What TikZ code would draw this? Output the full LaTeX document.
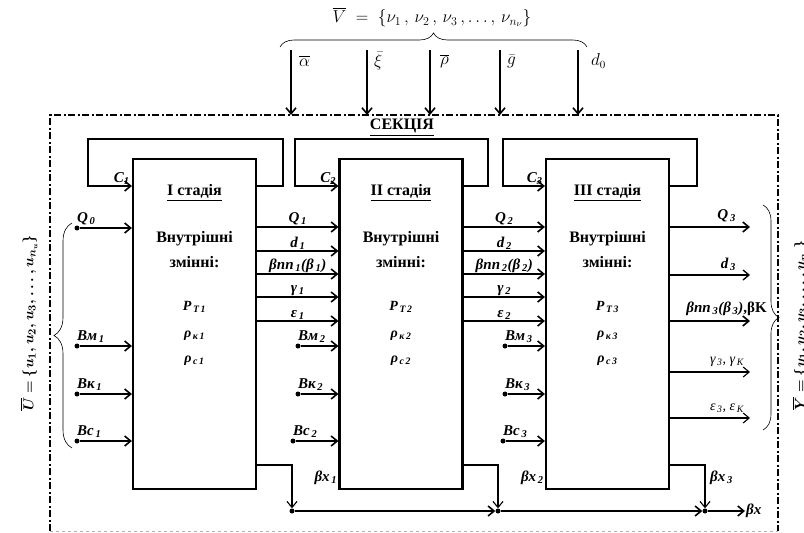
\documentclass[tikz,border=0pt]{standalone}
\usepackage{fontspec}
\setmainfont{Liberation Serif}
\usepackage{amsmath}
\usetikzlibrary{positioning, arrows.meta, calc, decorations.pathreplacing}

\tikzset{
  stagebox/.style={draw, line width=2.2pt, minimum width=123pt, minimum height=330pt, inner sep=0pt},
  flow/.style={-{Straight Barb[length=6pt, width=10pt]}, line width=1.6pt},
  thinflow/.style={flow, line width=1.1pt},
  loopline/.style={line width=1.5pt},
  secframe/.style={line width=1.3pt, dash pattern=on 7pt off 2.5pt on 2pt off 2.5pt},
  stagetitle/.style={font=\fontsize{16}{18}\selectfont\bfseries, inner sep=1pt},
  lab/.style={font=\fontsize{15}{17}\selectfont\bfseries\itshape, inner sep=1pt},
  innerlab/.style={font=\fontsize{14}{16}\selectfont\bfseries\itshape, inner sep=1pt},
  plainlab/.style={font=\fontsize{14}{16}\selectfont\itshape, inner sep=1pt},
  toplab/.style={font=\fontsize{16}{18}\selectfont, inner sep=1pt, anchor=west},
  vecset/.style={rotate=90, font=\fontsize{15}{17}\selectfont, inner sep=0pt},
  src/.style={circle, fill, inner sep=0pt, minimum size=5pt},
  setbrace/.style={decorate, decoration={brace, amplitude=#1}, line width=0.6pt},
}
\newcommand{\uvec}{$\boldsymbol{\overline{U}}\boldsymbol{=}\boldsymbol{\{}\boldsymbol{u_{1},u_{2},u_{3},\ldots,u_{n_u}}\boldsymbol{\}}$}
\newcommand{\yvec}{$\boldsymbol{\overline{Y}}\boldsymbol{=}\boldsymbol{\{}\boldsymbol{y_{1},y_{2},y_{3},\ldots,y_{n_y}}\boldsymbol{\}}$}

\begin{document}
\begin{tikzpicture}[x=1pt, y=-1pt, every node/.style={font=\fontsize{16}{18}\selectfont}]
\useasboundingbox (0,0) rectangle (804,533);

% section frame
\draw[secframe] (50,531) -- (50,115) -- (778,115) -- (778,531);
\draw[gray!60, dashed, line width=0.5pt] (50,531) -- (778,531);
\coordinate (ftop) at (0,115);
\node[stagetitle] (sec) at (402,128) {\underline{СЕКЦІЯ}};

% external parameters on top
\draw[setbrace=14pt] (280,47) -- (587,47);
\node[font=\fontsize{18}{20}\selectfont] (vset) at (432,17) {$\overline{V}\;=\;\left\{\nu_{1}\,,\,\nu_{2}\,,\,\nu_{3}\,,\ldots,\,\nu_{n_\nu}\right\}$};
\foreach \x/\n/\t/\g in {291/al/$\overline{\alpha}$/7, 367/xi/$\bar{\xi}$/6, 430/rh/$\overline{\rho}$/9, 500/gg/$\bar{g}$/6, 578/dd/$d_{0}$/12} {
  \coordinate (in\n) at (\x,50);
  \draw[flow] (in\n) -- (in\n |- ftop);
  \node[toplab] (l\n) at ({\x+\g},61) {\t};
}

% stages
\node[stagebox] (s1) at (194.5,324) {};
\node[stagebox] (s2) at (401,324) {};
\node[stagebox] (s3) at (607.5,324) {};
\foreach \s/\r in {1/I, 2/II, 3/III} {
  \node[stagetitle] (t\s) at ($(s\s.north)+(0,35)$) {\underline{\r\ стадія}};
  \node[stagetitle] (v\s) at ($(s\s.north)+(0,81)$) {Внутрішні};
  \node[stagetitle] (z\s) at ($(s\s.north)+(0,104)$) {змінні:};
  \node[innerlab] (pt\s) at ($(s\s.north)+(0,149)$) {P\textsubscript{\,T\,\s}};
  \node[innerlab] (rk\s) at ($(s\s.north)+(0,178)$) {ρ\textsubscript{\,к\,\s}};
  \node[innerlab] (rc\s) at ($(s\s.north)+(0,203)$) {ρ\textsubscript{\,c\,\s}};
}

% recycle loops
\foreach \s/\xl/\xr in {1/88/283, 2/295/488, 3/503/697} {
  \draw[loopline, flow] (s\s.east |- 0,186) -- (\xr,186) -- (\xr,139) -- (\xl,139) -- (\xl,186) -- (s\s.west |- 0,186);
  \path (s\s.west |- 0,186) node[lab, above left=0pt and 1pt] (c\s) {C\textsubscript{\s}};
}

% feed of stage 1
\node[src] (q0) at (77,228) {};
\draw[flow] (q0) -- (s1.west |- q0);
\node[lab, above right=0pt and -3pt of q0] (lq0) {Q\textsubscript{\,0}};

% inputs with dots
\foreach \s/\xa/\xb in {1/77/77, 2/298/293, 3/505/503} {
  \node[src] (bm\s) at (\xa,346) {};
  \node[src] (bk\s) at (\xa,394) {};
  \node[src] (bc\s) at (\xb,441) {};
  \foreach \n/\t in {bm/Вм, bk/Вк, bc/Вс} {
    \draw[flow] (\n\s) -- (s\s.west |- \n\s);
    \node[lab, above right=0pt and -3pt of \n\s] (l\n\s) {\t\textsubscript{\,\s}};
  }
}

% flows between stages
\foreach \a/\b in {1/2, 2/3} {
  \foreach \y/\t in {227/Q\textsubscript{\,\a}, 251/d\textsubscript{\,\a}, 274/βnn\textsubscript{\,\a}(β\textsubscript{\,\a}), 297/γ\textsubscript{\,\a}, 321/ε\textsubscript{\,\a}} {
    \draw[flow] (s\a.east |- 0,\y) -- (s\b.west |- 0,\y) node[lab, midway, above] {\t};
  }
}

% outputs of stage 3
\coordinate (o1) at (750,227);
\coordinate (o2) at (750,275);
\coordinate (o3) at (750,321);
\coordinate (o4) at (750,372);
\coordinate (o5) at (750,418);
\draw[flow] (s3.east |- o1) -- (o1);
\draw[thinflow, line width=1.3pt] (s3.east |- o2) -- (o2);
\draw[flow] (s3.east |- o3) -- (o3);
\draw[thinflow] (s3.east |- o4) -- (o4);
\draw[thinflow] (s3.east |- o5) -- (o5);
\node[lab, anchor=east] (lo1) at (737,216) {Q\textsubscript{\,3}};
\node[lab, anchor=east] (lo2) at (737,264) {d\textsubscript{\,3}};
\node[lab, anchor=east] (lo3) at (768,309) {βnn\textsubscript{\,3}(β\textsubscript{\,3})\textup{,βK}};
\node[plainlab, anchor=east] (lo4) at (745,362) {γ\textsubscript{\,3}, γ\textsubscript{\,K}};
\node[plainlab, anchor=east] (lo5) at (745,408) {ε\textsubscript{\,3}, ε\textsubscript{\,K}};

% discharge
\node[src] (j1) at (292,511) {};
\node[src] (j2) at (498,511) {};
\node[src] (j3) at (705,511) {};
\coordinate (bxo) at (745,511);
\draw[thinflow] (s1.east |- 0,465) -| (j1);
\draw[thinflow] (s2.east |- 0,465) -| (j2);
\draw[thinflow] (s3.east |- 0,465) -| (j3);
\draw[flow] (j1) -- (j2);
\draw[flow] (j2) -- (j3);
\draw[flow] (j3) -- (bxo);
\node[lab, anchor=east] (bx1) at (s2.west |- 0,478) {βx\textsubscript{\,1}};
\node[lab, anchor=east] (bx2) at (s3.west |- 0,478) {βx\textsubscript{\,2}};
\node[lab, anchor=west] (bx3) at (709,478) {βx\textsubscript{\,3}};
\node[lab, anchor=west] (bx) at (bxo) {βx};

% input and output vectors
\node[vecset] (uvec) at (29,323) {\uvec};
\node[vecset] (yvec) at (801,325) {\yvec};
\draw[setbrace=18pt] (72,448) -- (72,223);
\draw[setbrace=16pt] (763,205) -- (763,430);
\end{tikzpicture}
\end{document}
